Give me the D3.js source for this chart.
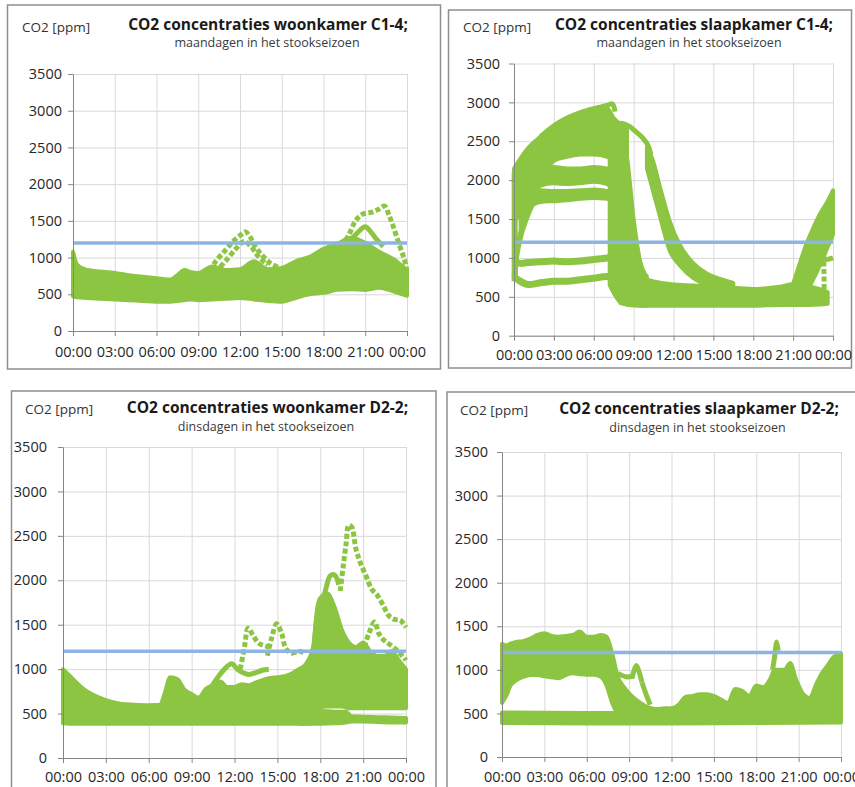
<!DOCTYPE html>
<html>
<head>
<meta charset="utf-8">
<script src="https://cdnjs.cloudflare.com/ajax/libs/d3/7.8.5/d3.min.js"></script>
<style>
  body { margin: 0; background: #fff; }
  svg { display: block; }
  text { font-family: "Open Sans", "Noto Sans", sans-serif; }
</style>
</head>
<body>
<div id="chart"></div>
<script>
// ======= shared axis data
var yTicks = [0, 500, 1000, 1500, 2000, 2500, 3000, 3500];
var hourTicks = [0, 3, 6, 9, 12, 15, 18, 21, 24];
var hourLabels = ["00:00", "03:00", "06:00", "09:00", "12:00", "15:00", "18:00", "21:00", "00:00"];
var limitPpm = 1200;

// ======= woonkamer C1-4 (maandagen)
var c1wHours = [0, 0.3, 1, 2, 3, 4, 5, 6, 7, 7.5, 8, 8.5, 9, 10, 11, 12, 13, 14, 15, 16, 17, 18, 19, 20, 21, 22, 23, 24];
var c1wHigh  = [1080, 900, 830, 810, 790, 760, 740, 720, 700, 760, 830, 800, 790, 880, 830, 840, 950, 840, 860, 950, 1010, 1120, 1190, 1270, 1200, 1080, 980, 830];
var c1wLow   = [470, 460, 450, 440, 430, 420, 410, 400, 400, 410, 420, 430, 420, 430, 440, 450, 430, 410, 400, 450, 500, 520, 560, 570, 560, 590, 540, 480];
var c1wNoonA = [[9.8, 820], [10.3, 960], [11, 1110], [11.5, 1220], [12, 1300], [12.4, 1350], [12.7, 1290], [13.1, 1150], [13.6, 1030], [14.2, 920], [14.8, 860]];
var c1wNoonB = [[10.2, 800], [11, 960], [11.7, 1120], [12.3, 1220], [12.8, 1150], [13.3, 1020], [14, 900]];
var c1wEveA  = [[19.3, 1150], [19.8, 1300], [20.3, 1500], [20.8, 1590], [21.5, 1620], [22, 1660], [22.4, 1700], [22.7, 1580], [23, 1430], [23.4, 1200], [23.8, 980], [24, 830]];
var c1wEveB  = [[19.8, 1200], [20.4, 1330], [21, 1420], [21.4, 1350], [21.8, 1250], [22.3, 1150]];

// ======= slaapkamer C1-4 (maandagen)
var c1sTopHours = [0, 1, 2, 3, 4, 5, 6, 7, 7.5, 8, 8.5];
var c1sTopHigh  = [2150, 2400, 2560, 2680, 2760, 2830, 2880, 2920, 2800, 2720, 2650];
var c1sTopLow   = [1450, 1750, 2000, 2250, 2300, 2330, 2330, 2300, 2250, 2100, 1800];
var c1sMidHours = [1, 2, 3, 4, 5, 6, 7, 7.5];
var c1sMidHigh  = [1950, 2120, 2170, 2150, 2150, 2170, 2150, 2100];
var c1sMidLow   = [1700, 1930, 1960, 1950, 1960, 1980, 1950, 1900];
var c1sBotHours = [0.5, 1, 2, 3, 4, 5, 6, 7, 7.5];
var c1sBotHigh  = [1700, 1850, 1870, 1860, 1860, 1870, 1880, 1860, 1800];
var c1sBotLow   = [1350, 1620, 1720, 1730, 1740, 1760, 1770, 1760, 1700];
var c1sWallHours = [7.2, 7.6, 8, 8.5, 9, 9.5, 10];
var c1sWallHigh  = [2300, 2600, 2650, 2300, 1500, 950, 760];
var c1sWallLow   = [650, 520, 430, 400, 390, 385, 385];
var c1sTailHours = [10, 10.4, 11, 11.7, 12.5, 13.5, 14.5, 15.5, 16.5];
var c1sTailHigh  = [2420, 2280, 1900, 1480, 1160, 930, 800, 730, 680];
var c1sTailLow   = [2150, 1900, 1520, 1100, 900, 740, 650, 600, 580];
var c1sFloorHours = [8, 9, 10, 11, 12, 13, 14, 15, 16, 17, 18, 19, 20, 21, 22, 23, 23.6];
var c1sFloorHigh  = [700, 780, 720, 680, 660, 650, 640, 630, 620, 610, 600, 610, 630, 660, 640, 600, 560];
var c1sFloorLow   = [420, 390, 385, 385, 385, 385, 385, 385, 385, 385, 385, 390, 395, 395, 395, 400, 410];
var c1sEveHours = [21, 21.5, 22, 22.5, 23, 23.5, 24];
var c1sEveHigh  = [670, 930, 1180, 1380, 1560, 1700, 1870];
var c1sEveLow   = [420, 450, 560, 720, 900, 1100, 1300];
var c1sCrest  = [[2, 2560], [3, 2700], [4, 2800], [5, 2870], [6, 2920], [7, 2960], [7.4, 2980], [7.6, 2880]];
var c1sHook   = [[7.6, 2650], [8, 2730], [8.6, 2700], [9.2, 2620], [9.7, 2540], [10.1, 2440], [10.3, 2330]];
var c1sNightA = [[0, 950], [0.5, 930], [1, 940], [2, 950], [3, 960], [4, 950], [5, 960], [6, 980], [7, 1000], [7.5, 1020]];
var c1sNightB = [[0, 760], [0.3, 720], [1, 660], [2, 680], [3, 700], [4, 700], [5, 720], [6, 740], [7, 760], [7.4, 740]];
var c1sRise   = [[0.05, 750], [0.15, 1000], [0.5, 1300], [1, 1550], [1.5, 1750]];
var c1sEdge   = [[0.05, 700], [0.05, 2100]];
var c1sLate   = [[22.2, 960], [23, 1000], [23.5, 980], [24, 1000]];
var c1sDrop   = [[23.3, 1050], [23.35, 420]];

// ======= woonkamer D2-2 (dinsdagen)
var d2wHours = [0, 0.5, 1, 1.5, 2, 3, 4, 5, 6, 6.8, 7.1, 7.5, 8, 8.5, 9, 9.5, 10, 10.5, 11, 11.5, 12, 12.5, 13, 13.5, 14, 14.5, 15, 15.5, 16, 16.5, 17, 17.5, 17.8, 18, 18.5, 19, 19.5, 20, 20.5, 21, 21.5, 22, 22.5, 23, 23.5, 24];
var d2wHigh  = [1000, 920, 840, 770, 720, 650, 610, 600, 595, 600, 720, 910, 890, 770, 720, 680, 780, 820, 860, 800, 800, 830, 820, 850, 880, 900, 910, 920, 950, 1000, 1060, 1250, 1700, 1800, 1850, 1700, 1450, 1300, 1250, 1300, 1200, 1150, 1150, 1200, 1100, 1000];
var d2wLow   = [390, 385, 385, 385, 385, 385, 385, 385, 385, 385, 385, 385, 385, 385, 385, 385, 385, 385, 385, 385, 385, 385, 385, 385, 385, 385, 385, 385, 385, 385, 385, 390, 520, 570, 580, 580, 580, 560, 560, 560, 560, 560, 560, 560, 560, 560];
var d2wBaseHours = [16.5, 17, 18, 19, 19.8, 20.2, 21, 22, 23, 24];
var d2wBaseHigh  = [420, 500, 530, 520, 520, 470, 465, 460, 455, 450];
var d2wBaseLow   = [385, 385, 385, 390, 400, 410, 410, 405, 400, 400];
var d2wRise   = [[9.6, 650], [10.2, 760], [10.8, 900], [11.3, 1000], [11.8, 1060], [12.2, 1000], [12.6, 960], [13, 940], [13.5, 960], [14, 990], [14.4, 1000]];
var d2wPeakA  = [[12.4, 1000], [12.7, 1250], [12.95, 1460], [13.3, 1380], [13.7, 1290], [14.2, 1260], [14.6, 1240]];
var d2wPeakB  = [[14.3, 1150], [14.6, 1350], [14.95, 1510], [15.3, 1400], [15.6, 1230], [16, 1180], [16.5, 1200], [17, 1180]];
var d2wCluster = [[17.6, 1300], [17.9, 1700], [18.3, 1850], [18.7, 2050], [19, 2060], [19.3, 1950]];
var d2wSpike  = [[19.4, 1880], [19.6, 2150], [19.8, 2400], [20, 2620], [20.2, 2600], [20.5, 2350], [20.8, 2200], [21.2, 2050], [21.6, 1900], [22, 1830], [22.4, 1720], [22.8, 1600], [23.2, 1560], [23.6, 1550], [24, 1470]];
var d2wSecond = [[20.6, 1100], [21, 1220], [21.4, 1400], [21.8, 1530], [22.1, 1400], [22.5, 1320], [23.1, 1250], [23.8, 1140], [24, 1100]];

// ======= slaapkamer D2-2 (dinsdagen)
var d2sBaseHours = [0, 6, 12, 18, 24];
var d2sBaseHigh  = [510, 505, 505, 510, 515];
var d2sBaseLow   = [390, 385, 385, 390, 395];
var d2sNightHours = [0, 0.3, 0.6, 1, 1.5, 2, 2.5, 3, 3.5, 4, 4.5, 5, 5.5, 6, 6.5, 7, 7.4, 7.8, 8.2, 8.6, 9, 9.5, 10, 10.5, 11, 11.5];
var d2sNightHigh  = [1300, 1280, 1300, 1320, 1330, 1360, 1400, 1420, 1390, 1380, 1390, 1400, 1440, 1380, 1380, 1400, 1380, 1190, 920, 810, 730, 655, 600, 560, 540, 520];
var d2sNightLow   = [620, 700, 820, 880, 920, 940, 940, 925, 915, 905, 940, 960, 950, 945, 945, 920, 820, 620, 500, 480, 480, 480, 480, 480, 480, 480];
var d2sDayHours = [10.5, 11, 11.5, 12, 12.5, 13, 13.5, 14, 14.5, 15, 15.5, 16, 16.5, 17, 17.5, 18, 18.5, 19, 19.3, 19.6, 20, 20.4, 20.8, 21.3, 21.8, 22.2, 22.6, 23, 23.5, 24];
var d2sDayHigh  = [560, 550, 560, 560, 600, 690, 700, 720, 720, 700, 660, 620, 780, 760, 700, 820, 800, 900, 1000, 1000, 1000, 1080, 900, 730, 680, 820, 950, 1040, 1150, 1190];
var d2sDayLow   = [480, 480, 480, 480, 480, 480, 480, 480, 480, 480, 480, 480, 480, 480, 480, 480, 480, 480, 480, 480, 480, 480, 480, 480, 480, 480, 480, 480, 480, 480];
var d2sShelf = [[8.2, 960], [8.8, 920], [9.3, 930]];
var d2sBlobA = [[9.2, 900], [9.5, 1050], [9.7, 980], [9.9, 860]];
var d2sBlobB = [[9.9, 860], [10.2, 720], [10.5, 600]];
var d2sSpike = [[19.15, 1000], [19.3, 1150], [19.45, 1320], [19.55, 1220]];

// ======= panel layout
var panels = [
  { box: [7.5, 5, 433, 364], plot: { left: 73, right: 407, top: 74, bottom: 331 },
    title: "CO2 concentraties woonkamer C1-4;", sub: "maandagen in het stookseizoen",
    tx: 268, ty: 30, sx: 267, sy: 47, ux: 22, uy: 32, xOff: 26, yPad: 6,
    bands: [[c1wHours, c1wLow, c1wHigh]],
    traces: [{ pts: c1wNoonA, dash: true }, { pts: c1wNoonB, dash: true }, { pts: c1wEveA, dash: true }, { pts: c1wEveB, dash: false }] },
  { box: [448.5, 10, 403, 358], plot: { left: 514, right: 833, top: 63.5, bottom: 335.7 },
    title: "CO2 concentraties slaapkamer C1-4;", sub: "maandagen in het stookseizoen",
    tx: 694, ty: 30, sx: 689, sy: 47, ux: 463, uy: 32, xOff: 24, yPad: 9,
    bands: [[c1sTopHours, c1sTopLow, c1sTopHigh], [c1sMidHours, c1sMidLow, c1sMidHigh], [c1sBotHours, c1sBotLow, c1sBotHigh],
            [c1sWallHours, c1sWallLow, c1sWallHigh], [c1sTailHours, c1sTailLow, c1sTailHigh],
            [c1sFloorHours, c1sFloorLow, c1sFloorHigh], [c1sEveHours, c1sEveLow, c1sEveHigh]],
    traces: [{ pts: c1sCrest }, { pts: c1sHook }, { pts: c1sNightA, w: 7 }, { pts: c1sNightB, w: 7 },
             { pts: c1sRise, w: 6 }, { pts: c1sEdge, w: 6 }, { pts: c1sLate }, { pts: c1sDrop, dash: true }] },
  { box: [11.5, 391, 424.5, 420], plot: { left: 63, right: 406, top: 447, bottom: 758 },
    title: "CO2 concentraties woonkamer D2-2;", sub: "dinsdagen in het stookseizoen",
    tx: 267.5, ty: 413, sx: 266, sy: 431, ux: 25, uy: 414, xOff: 24, yPad: 11,
    bands: [[d2wHours, d2wLow, d2wHigh], [d2wBaseHours, d2wBaseLow, d2wBaseHigh]],
    traces: [{ pts: d2wRise }, { pts: d2wPeakA, dash: true }, { pts: d2wPeakB, dash: true }, { pts: d2wCluster },
             { pts: d2wSpike, dash: true }, { pts: d2wSecond, dash: true }] },
  { box: [447, 392, 430, 420], plot: { left: 502, right: 841, top: 452, bottom: 757 },
    title: "CO2 concentraties slaapkamer D2-2;", sub: "dinsdagen in het stookseizoen",
    tx: 699, ty: 414, sx: 697.5, sy: 432, ux: 460, uy: 415, xOff: 25, yPad: 9,
    bands: [[d2sBaseHours, d2sBaseLow, d2sBaseHigh], [d2sNightHours, d2sNightLow, d2sNightHigh], [d2sDayHours, d2sDayLow, d2sDayHigh]],
    traces: [{ pts: d2sShelf }, { pts: d2sBlobA }, { pts: d2sBlobB }, { pts: d2sSpike }] }
];

var green = "#8cc541";
var blue = "#8db4e2";

var svg = d3.select("#chart").append("svg")
  .attr("width", 855)
  .attr("height", 787);

panels.forEach(function(p) {
  var x = d3.scaleLinear().domain([0, 24]).range([p.plot.left, p.plot.right]);
  var y = d3.scaleLinear().domain([0, 3500]).range([p.plot.bottom, p.plot.top]);
  var g = svg.append("g");

  // ======= frame
  g.append("rect")
    .attr("x", p.box[0]).attr("y", p.box[1])
    .attr("width", p.box[2]).attr("height", p.box[3])
    .attr("fill", "none").attr("stroke", "#8e8e8e").attr("stroke-width", 1.5);

  // ======= grid
  g.append("g")
    .attr("transform", "translate(0," + p.plot.bottom + ")")
    .call(d3.axisBottom(x).tickValues(hourTicks).tickSize(-(p.plot.bottom - p.plot.top)).tickFormat(""))
    .call(function(a) { a.select(".domain").remove(); a.selectAll("line").attr("stroke", "#d9d9d9"); });
  g.append("g")
    .attr("transform", "translate(" + p.plot.left + ",0)")
    .call(d3.axisLeft(y).tickValues(yTicks).tickSize(-(p.plot.right - p.plot.left)).tickFormat(""))
    .call(function(a) { a.select(".domain").remove(); a.selectAll("line").attr("stroke", "#d9d9d9"); });

  // ======= data clouds
  var area = d3.area()
    .x(function(d) { return x(d[0]); })
    .y0(function(d) { return y(d[1]); })
    .y1(function(d) { return y(d[2]); })
    .curve(d3.curveMonotoneX);
  p.bands.forEach(function(b) {
    g.append("path")
      .attr("d", area(d3.zip(b[0], b[1], b[2])))
      .attr("fill", green).attr("stroke", green)
      .attr("stroke-width", 4).attr("stroke-linejoin", "round");
  });

  var line = d3.line()
    .x(function(d) { return x(d[0]); })
    .y(function(d) { return y(d[1]); })
    .curve(d3.curveCatmullRom.alpha(0.5));
  p.traces.forEach(function(t) {
    g.append("path")
      .attr("d", line(t.pts))
      .attr("fill", "none").attr("stroke", green)
      .attr("stroke-width", t.w || 5)
      .attr("stroke-dasharray", t.dash ? "5,2.5" : null);
  });

  // ======= limit line
  g.append("path")
    .attr("d", d3.line().x(function(d) { return x(d[0]); }).y(function(d) { return y(d[1]); })([[0, limitPpm], [24, limitPpm]]))
    .attr("stroke", blue).attr("stroke-width", 3.5).attr("fill", "none");

  // ======= axes
  var xa = g.append("g")
    .attr("transform", "translate(0," + p.plot.bottom + ")")
    .call(d3.axisBottom(x).tickValues(hourTicks).tickSize(5).tickSizeOuter(0)
      .tickFormat(function(d, i) { return hourLabels[i]; }));
  xa.selectAll("text").attr("y", p.xOff).attr("dy", 0);
  var ya = g.append("g")
    .attr("transform", "translate(" + p.plot.left + ",0)")
    .call(d3.axisLeft(y).tickValues(yTicks).tickSize(5).tickSizeOuter(0).tickPadding(p.yPad)
      .tickFormat(d3.format("d")));
  [xa, ya].forEach(function(a) {
    a.attr("font-family", null).attr("font-size", null);
    a.selectAll("path, line").attr("stroke", "#868686");
    a.selectAll("text").attr("font-size", "14.5px").attr("fill", "#262626");
  });

  // ======= titles
  g.append("text").text(p.title)
    .attr("x", p.tx).attr("y", p.ty).attr("text-anchor", "middle")
    .attr("font-size", "15.5px").attr("font-weight", "bold").attr("fill", "#1a1a1a");
  g.append("text").text(p.sub)
    .attr("x", p.sx).attr("y", p.sy).attr("text-anchor", "middle")
    .attr("font-size", "12.5px").attr("fill", "#3a3a3a");
  g.append("text").text("CO2 [ppm]")
    .attr("x", p.ux).attr("y", p.uy)
    .attr("font-size", "13.5px").attr("fill", "#333");
});
</script>
</body>
</html>
